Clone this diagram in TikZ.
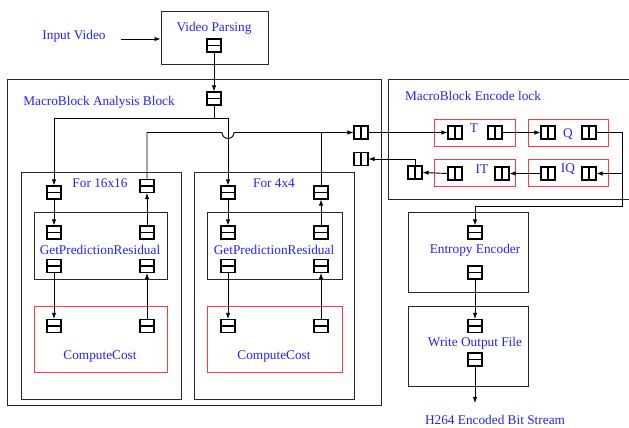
\documentclass[tikz,border=0pt]{standalone}
\usepackage{fontspec}
\setmainfont{Liberation Serif}
\usetikzlibrary{arrows.meta}
\definecolor{txtblue}{RGB}{35,35,255}
\definecolor{boxred}{RGB}{255,60,60}
\definecolor{boxgray}{RGB}{40,40,40}
\tikzset{
  lbl/.style={text=txtblue, font=\fontsize{13.3}{15}\selectfont, inner sep=0pt, yshift=-1.5pt},
  blk/.style={draw=boxgray, line width=1pt},
  redblk/.style={draw=boxred, line width=1pt},
  hport/.style={draw=black, line width=1.1pt, fill=white, minimum width=14pt, minimum height=13pt, inner sep=0pt,
    path picture={\draw[line width=1.1pt] (path picture bounding box.west) -- (path picture bounding box.east);}},
  vport/.style={draw=black, line width=1.1pt, fill=white, minimum width=14pt, minimum height=13pt, inner sep=0pt,
    path picture={\draw[line width=1.1pt] (path picture bounding box.north) -- (path picture bounding box.south);}},
  wire/.style={draw=black, line width=0.9pt},
  arr/.style={wire, -{Latex[length=6pt,width=4.5pt]}},
}
\begin{document}
\begin{tikzpicture}[x=1pt,y=-1pt]
\useasboundingbox (0,0) rectangle (629,428);
% containers
\node[blk, minimum width=107pt, minimum height=53pt, inner sep=0pt] (vp) at (214.5,38.5) {};
\node[blk, minimum width=374pt, minimum height=326pt, inner sep=0pt] (mab) at (194,242) {};
\draw[blk] (631,79) -- (388,79) -- (388,199) -- (631,199);
\coordinate (melock) at (388,79);
\node[blk, minimum width=160pt, minimum height=227pt, inner sep=0pt] (f16) at (101,285.5) {};
\node[blk, minimum width=160pt, minimum height=227pt, inner sep=0pt] (f4) at (274,285.5) {};
\node[blk, minimum width=133pt, minimum height=67pt, inner sep=0pt] (g16) at (100.5,245.5) {};
\node[blk, minimum width=135pt, minimum height=67pt, inner sep=0pt] (g4) at (274.5,245.5) {};
\node[redblk, minimum width=133pt, minimum height=66pt, inner sep=0pt] (c16) at (100.5,339) {};
\node[redblk, minimum width=135pt, minimum height=66pt, inner sep=0pt] (c4) at (274.5,339) {};
\node[redblk, minimum width=81pt, minimum height=27pt, inner sep=0pt] (Tb) at (474.5,132.5) {};
\node[redblk, minimum width=80pt, minimum height=27pt, inner sep=0pt] (Qb) at (568,132.5) {};
\node[redblk, minimum width=81pt, minimum height=27pt, inner sep=0pt] (ITb) at (474.5,172.5) {};
\node[redblk, minimum width=80pt, minimum height=27pt, inner sep=0pt] (IQb) at (568,172.5) {};
\node[blk, minimum width=120pt, minimum height=80pt, inner sep=0pt] (ee) at (468,252) {};
\node[blk, minimum width=120pt, minimum height=80pt, inner sep=0pt] (wo) at (468,346) {};
% labels
\node[lbl] (tin) at (74,35) {Input Video};
\node[lbl] at (214,27) {Video Parsing};
\node[lbl] at (99,101) {MacroBlock Analysis Block};
\node[lbl] at (473,94) {MacroBlock Encode lock};
\node[lbl] at (474,127) {T};
\node[lbl] at (568,133) {Q};
\node[lbl] at (482,168) {IT};
\node[lbl] at (568,168) {IQ};
\node[lbl] at (100,182) {For 16x16};
\node[lbl] at (274,182) {For 4x4};
\node[lbl] at (100,248) {GetPredictionResidual};
\node[lbl] at (274,248) {GetPredictionResidual};
\node[lbl] at (100,355) {ComputeCost};
\node[lbl] at (274,355) {ComputeCost};
\node[lbl] at (475,249) {Entropy Encoder};
\node[lbl] at (475,342) {Write Output File};
\node[lbl] (h264) at (495,418.5) {H264 Encoded Bit Stream};
% ports
\node[hport] (vpo) at (214,45.5) {};
\node[hport] (mbi) at (214,98.5) {};
\node[hport] (atl) at (54,192.5) {};
\node[hport] (atr) at (147,186) {};
\node[hport] (agl) at (54,232.5) {};
\node[hport] (agr) at (147,232.5) {};
\node[hport] (agbl) at (54,266) {};
\node[hport] (agbr) at (147,266) {};
\node[hport] (acl) at (54,326) {};
\node[hport] (acr) at (147,326) {};
\node[hport] (btl) at (228,192.5) {};
\node[hport] (btr) at (321,192.5) {};
\node[hport] (bgl) at (228,232.5) {};
\node[hport] (bgr) at (321,232.5) {};
\node[hport] (bgbl) at (228,266) {};
\node[hport] (bgbr) at (321,266) {};
\node[hport] (bcl) at (228,326) {};
\node[hport] (bcr) at (321,326) {};
\node[vport] (o1) at (361,132.5) {};
\node[vport] (o2) at (361,159) {};
\node[vport] (ti) at (455,132.5) {};
\node[vport] (to) at (495,132.5) {};
\node[vport] (qi) at (548,132.5) {};
\node[vport] (qo) at (589,132.5) {};
\node[vport] (iti) at (455,173.5) {};
\node[vport] (ito) at (502,173.5) {};
\node[vport] (iqi) at (548,173.5) {};
\node[vport] (iqo) at (589,173.5) {};
\node[vport] (ex) at (415,172.5) {};
\node[hport] (eei) at (475,232.5) {};
\node[hport] (eeo) at (475,272.5) {};
\node[hport] (woi) at (475,326) {};
\node[hport] (woo) at (475,359.5) {};
% connectors
\coordinate (ivs) at (121,39);
\draw[arr] (ivs) -- (vp.west |- ivs);
\draw[arr] (vpo.south) -- (mbi.north);
\coordinate (j1) at (214,118);
\coordinate (jl) at (54,118);
\coordinate (jr) at (228,118);
\draw[wire] (mbi.south) -- (j1);
\draw[wire] (jl) -- (jr);
\draw[arr] (jl) -- (atl.north);
\draw[arr] (jr) -- (btl.north);
\coordinate (h1) at (147,132.5);
\coordinate (hop) at (222,132.5);
\draw[arr] (atr.north) -- (h1) -- (hop) arc[start angle=180, end angle=0, radius=6] -- (o1.west);
\draw[wire] (btr.north) -- (btr.north |- o1);
\draw[arr] (atl.south) -- (agl.north);
\draw[arr] (agbl.south) -- (acl.north);
\draw[arr] (acr.north) -- (agbr.south);
\draw[arr] (agr.north) -- (atr.south);
\draw[arr] (btl.south) -- (bgl.north);
\draw[arr] (bgbl.south) -- (bcl.north);
\draw[arr] (bcr.north) -- (bgbr.south);
\draw[arr] (bgr.north) -- (btr.south);
\draw[arr] (o1.east) -- (ti.west);
\draw[arr] (to.east) -- (qi.west);
\coordinate (rc1) at (622,132.5);
\coordinate (rc2) at (622,206);
\coordinate (rc3) at (475,206);
\draw[wire] (qo.east) -- (rc1) -- (rc2) -- (rc3);
\draw[arr] (rc3) -- (eei.north);
\draw[arr] (622,173.5) -- (iqo.east);
\draw[arr] (iqi.west) -- (ito.east);
\draw[arr] (iti.west) -- (ex.east);
\draw[arr] (ex.north) -- (ex.north |- o2) -- (o2.east);
\draw[arr] (eeo.south) -- (woi.north);
\coordinate (bs) at (475,403);
\draw[arr] (woo.south) -- (bs);
\end{tikzpicture}
\end{document}
